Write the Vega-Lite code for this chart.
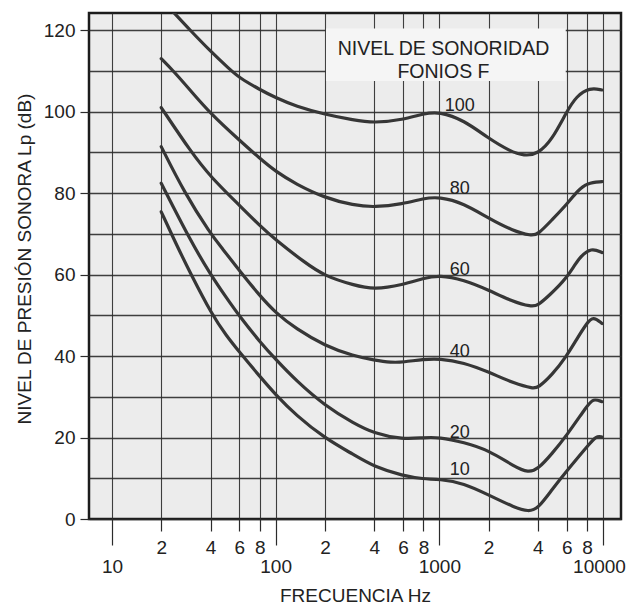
{
  "$schema": "https://vega.github.io/schema/vega-lite/v6.json",
  "width": 532,
  "height": 506,
  "autosize": "none",
  "padding": {"left": 89, "top": 13, "right": 7, "bottom": 85},
  "background": "white",
  "config": {
    "font": "Liberation Sans",
    "view": {"fill": "#ececec", "stroke": "#1c1c1c", "strokeWidth": 2.5},
    "axis": {
      "labelFont": "Liberation Sans",
      "titleFont": "Liberation Sans",
      "labelFontSize": 19,
      "titleFontSize": 19,
      "titleFontWeight": "normal",
      "labelColor": "#222222",
      "titleColor": "#222222",
      "domain": false,
      "gridColor": "#2b2b2b",
      "tickColor": "#2b2b2b",
      "tickWidth": 1.2,
      "labelOverlap": false,
      "labelFlush": false
    }
  },
  "datasets": {
    "box": [{"f": 203, "f2": 5920, "db": 107.5, "db2": 120.4}],
    "curves": [
      {"F": 100, "f": 23, "db": 125},
      {"F": 100, "f": 30, "db": 120},
      {"F": 100, "f": 40, "db": 114.8},
      {"F": 100, "f": 52, "db": 110.5},
      {"F": 100, "f": 60, "db": 108.3},
      {"F": 100, "f": 80, "db": 105.4},
      {"F": 100, "f": 100, "db": 103.4},
      {"F": 100, "f": 133, "db": 101.3},
      {"F": 100, "f": 200, "db": 99.3},
      {"F": 100, "f": 300, "db": 97.9},
      {"F": 100, "f": 400, "db": 97.2},
      {"F": 100, "f": 600, "db": 98},
      {"F": 100, "f": 800, "db": 99.5},
      {"F": 100, "f": 1000, "db": 100},
      {"F": 100, "f": 1413, "db": 97.9},
      {"F": 100, "f": 2000, "db": 93.4},
      {"F": 100, "f": 2700, "db": 90.3},
      {"F": 100, "f": 3300, "db": 89.1},
      {"F": 100, "f": 4000, "db": 89.6},
      {"F": 100, "f": 4870, "db": 93},
      {"F": 100, "f": 6000, "db": 100},
      {"F": 100, "f": 6880, "db": 103.8},
      {"F": 100, "f": 8300, "db": 105.9},
      {"F": 100, "f": 9860, "db": 105.3},

      {"F": 80, "f": 20, "db": 113},
      {"F": 80, "f": 23.7, "db": 110},
      {"F": 80, "f": 30, "db": 105.3},
      {"F": 80, "f": 40, "db": 99.5},
      {"F": 80, "f": 60, "db": 93},
      {"F": 80, "f": 80, "db": 88.5},
      {"F": 80, "f": 100, "db": 85.3},
      {"F": 80, "f": 133, "db": 82.2},
      {"F": 80, "f": 200, "db": 78.8},
      {"F": 80, "f": 300, "db": 77},
      {"F": 80, "f": 400, "db": 76.5},
      {"F": 80, "f": 600, "db": 77.3},
      {"F": 80, "f": 800, "db": 78.7},
      {"F": 80, "f": 1000, "db": 79.1},
      {"F": 80, "f": 1413, "db": 77.5},
      {"F": 80, "f": 2000, "db": 73.8},
      {"F": 80, "f": 2800, "db": 70.8},
      {"F": 80, "f": 3650, "db": 69.5},
      {"F": 80, "f": 4000, "db": 69.8},
      {"F": 80, "f": 4870, "db": 73.4},
      {"F": 80, "f": 6000, "db": 77.2},
      {"F": 80, "f": 7000, "db": 80.6},
      {"F": 80, "f": 8000, "db": 82.5},
      {"F": 80, "f": 9860, "db": 82.8},

      {"F": 60, "f": 20, "db": 101},
      {"F": 60, "f": 30.5, "db": 90},
      {"F": 60, "f": 40, "db": 84},
      {"F": 60, "f": 60, "db": 77},
      {"F": 60, "f": 80, "db": 72},
      {"F": 60, "f": 100, "db": 68.5},
      {"F": 60, "f": 150, "db": 63},
      {"F": 60, "f": 200, "db": 59.6},
      {"F": 60, "f": 300, "db": 57.4},
      {"F": 60, "f": 400, "db": 56.3},
      {"F": 60, "f": 600, "db": 57.5},
      {"F": 60, "f": 800, "db": 59.1},
      {"F": 60, "f": 1000, "db": 59.9},
      {"F": 60, "f": 1413, "db": 58.7},
      {"F": 60, "f": 2000, "db": 56.2},
      {"F": 60, "f": 2800, "db": 53.4},
      {"F": 60, "f": 3650, "db": 52.1},
      {"F": 60, "f": 4000, "db": 52.4},
      {"F": 60, "f": 4670, "db": 54.8},
      {"F": 60, "f": 6000, "db": 59},
      {"F": 60, "f": 7180, "db": 64.4},
      {"F": 60, "f": 8490, "db": 66.6},
      {"F": 60, "f": 9860, "db": 65.4},

      {"F": 40, "f": 20, "db": 91.4},
      {"F": 40, "f": 27.8, "db": 80},
      {"F": 40, "f": 40, "db": 70},
      {"F": 40, "f": 47, "db": 66.5},
      {"F": 40, "f": 60, "db": 61},
      {"F": 40, "f": 80, "db": 54.8},
      {"F": 40, "f": 100, "db": 50.6},
      {"F": 40, "f": 133, "db": 46.7},
      {"F": 40, "f": 200, "db": 42.5},
      {"F": 40, "f": 300, "db": 40},
      {"F": 40, "f": 400, "db": 39},
      {"F": 40, "f": 510, "db": 38.4},
      {"F": 40, "f": 600, "db": 38.5},
      {"F": 40, "f": 800, "db": 39.2},
      {"F": 40, "f": 1000, "db": 39.4},
      {"F": 40, "f": 1413, "db": 38.4},
      {"F": 40, "f": 2000, "db": 36.1},
      {"F": 40, "f": 2890, "db": 33.2},
      {"F": 40, "f": 3760, "db": 32},
      {"F": 40, "f": 4000, "db": 32.2},
      {"F": 40, "f": 4870, "db": 35.3},
      {"F": 40, "f": 6000, "db": 40},
      {"F": 40, "f": 6850, "db": 43.9},
      {"F": 40, "f": 8000, "db": 48.2},
      {"F": 40, "f": 8690, "db": 49.7},
      {"F": 40, "f": 9860, "db": 48},

      {"F": 20, "f": 20, "db": 82.4},
      {"F": 20, "f": 30, "db": 68.5},
      {"F": 20, "f": 40, "db": 60},
      {"F": 20, "f": 50, "db": 54.3},
      {"F": 20, "f": 60, "db": 49.8},
      {"F": 20, "f": 80, "db": 43.5},
      {"F": 20, "f": 100, "db": 39.2},
      {"F": 20, "f": 133, "db": 34},
      {"F": 20, "f": 200, "db": 27.8},
      {"F": 20, "f": 300, "db": 23.5},
      {"F": 20, "f": 400, "db": 21},
      {"F": 20, "f": 600, "db": 19.5},
      {"F": 20, "f": 800, "db": 20},
      {"F": 20, "f": 1000, "db": 20.1},
      {"F": 20, "f": 1413, "db": 18.8},
      {"F": 20, "f": 2000, "db": 16.9},
      {"F": 20, "f": 2890, "db": 12.8},
      {"F": 20, "f": 3500, "db": 11.4},
      {"F": 20, "f": 4000, "db": 12.2},
      {"F": 20, "f": 4870, "db": 16},
      {"F": 20, "f": 6000, "db": 20.5},
      {"F": 20, "f": 8000, "db": 27.8},
      {"F": 20, "f": 8690, "db": 29.6},
      {"F": 20, "f": 9860, "db": 28.8},

      {"F": 10, "f": 20, "db": 75.4},
      {"F": 10, "f": 25, "db": 67},
      {"F": 10, "f": 30, "db": 60.5},
      {"F": 10, "f": 41, "db": 50},
      {"F": 10, "f": 50, "db": 45},
      {"F": 10, "f": 60, "db": 41},
      {"F": 10, "f": 80, "db": 35},
      {"F": 10, "f": 100, "db": 30.5},
      {"F": 10, "f": 133, "db": 25.5},
      {"F": 10, "f": 200, "db": 19.8},
      {"F": 10, "f": 300, "db": 15.8},
      {"F": 10, "f": 400, "db": 12.8},
      {"F": 10, "f": 600, "db": 10.6},
      {"F": 10, "f": 800, "db": 9.8},
      {"F": 10, "f": 1000, "db": 9.8},
      {"F": 10, "f": 1413, "db": 8.8},
      {"F": 10, "f": 2000, "db": 5.9},
      {"F": 10, "f": 2890, "db": 2.8},
      {"F": 10, "f": 3500, "db": 1.8},
      {"F": 10, "f": 4000, "db": 2.5},
      {"F": 10, "f": 4870, "db": 7.2},
      {"F": 10, "f": 6000, "db": 11.8},
      {"F": 10, "f": 8000, "db": 17.8},
      {"F": 10, "f": 9125, "db": 20.5},
      {"F": 10, "f": 9860, "db": 20.1}
    ],
    "curveLabels": [
      {"f": 1333, "db": 101.3, "t": "100"},
      {"f": 1333, "db": 81, "t": "80"},
      {"f": 1333, "db": 61.1, "t": "60"},
      {"f": 1333, "db": 41, "t": "40"},
      {"f": 1333, "db": 21.1, "t": "20"},
      {"f": 1333, "db": 12, "t": "10"}
    ],
    "boxText": [
      {"f": 1060, "db": 115.3, "t": "NIVEL DE SONORIDAD"},
      {"f": 1060, "db": 109.7, "t": "FONIOS F"}
    ]
  },
  "encoding": {
    "x": {
      "field": "f",
      "type": "quantitative",
      "scale": {"type": "log", "domain": [7.24, 12880], "nice": false},
      "axis": {
        "title": "FRECUENCIA Hz",
        "values": [10, 20, 40, 60, 80, 100, 200, 400, 600, 800, 1000, 2000, 4000, 6000, 8000, 10000],
        "format": "d",
        "labelExpr": "slice(datum.label, 0, 1) == '1' ? datum.label : slice(datum.label, 0, 1)",
        "grid": true,
        "gridWidth": 1.1,
        "gridOpacity": 0.9,
        "tickSize": {"condition": {"test": "datum.value == 10 || datum.value == 100 || datum.value == 1000 || datum.value == 10000", "value": 26}, "value": 12},
        "labelPadding": {"condition": {"test": "datum.value == 10 || datum.value == 100 || datum.value == 1000 || datum.value == 10000", "value": 12.2}, "value": 7.2},
        "labelOffset": {"condition": {"test": "datum.value == 10000", "value": -4}, "value": 0},
        "titleY": 67,
        "titleBaseline": "top"
      }
    },
    "y": {
      "field": "db",
      "type": "quantitative",
      "scale": {"domain": [0, 124.2], "nice": false, "zero": false},
      "axis": {
        "title": "NIVEL DE PRESIÓN SONORA Lp (dB)",
        "values": [0, 10, 20, 30, 40, 50, 60, 70, 80, 90, 100, 110, 120],
        "labelExpr": "datum.value % 20 == 0 ? datum.label : ''",
        "tickSize": {"condition": {"test": "datum.value % 20 == 0", "value": 9}, "value": 0},
        "labelPadding": 5,
        "grid": true,
        "gridWidth": 1.4,
        "gridOpacity": 0.9,
        "titleX": -65,
        "titleY": 245.5,
        "titleBaseline": "middle",
        "titleAlign": "center"
      }
    }
  },
  "layer": [
    {
      "data": {"name": "box"},
      "mark": {"type": "rect", "fill": "#f5f5f5", "stroke": null},
      "encoding": {
        "x2": {"field": "f2"},
        "y2": {"field": "db2"}
      }
    },
    {
      "data": {"name": "curves"},
      "mark": {"type": "line", "stroke": "#363636", "strokeWidth": 3.2, "interpolate": "basis", "clip": true, "strokeCap": "round"},
      "encoding": {
        "detail": {"field": "F", "type": "nominal"}
      }
    },
    {
      "data": {"name": "curveLabels"},
      "mark": {"type": "text", "fontSize": 18, "color": "#222222", "baseline": "middle", "align": "center", "font": "Liberation Sans"},
      "encoding": {
        "text": {"field": "t"}
      }
    },
    {
      "data": {"name": "boxText"},
      "mark": {"type": "text", "fontSize": 19.5, "color": "#222222", "baseline": "middle", "align": "center", "font": "Liberation Sans"},
      "encoding": {
        "text": {"field": "t"}
      }
    }
  ]
}
